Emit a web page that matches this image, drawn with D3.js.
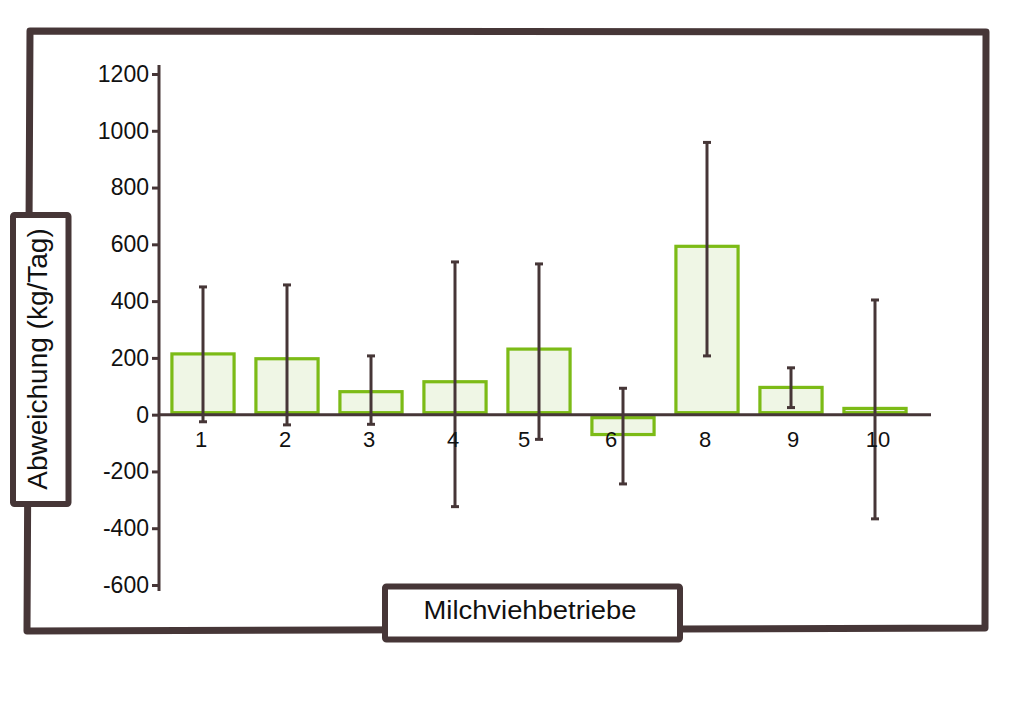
<!DOCTYPE html>
<html>
<head>
<meta charset="utf-8">
<script src="https://cdn.jsdelivr.net/npm/d3@7"></script>
<style>
  html, body { margin: 0; padding: 0; background: #ffffff; }
  svg { display: block; font-family: "Liberation Sans", Arial, Helvetica, sans-serif; }
</style>
</head>
<body>
<svg id="chart" width="1024" height="724"></svg>
<script>
// ---- data ----
const categories = ["1", "2", "3", "4", "5", "6", "8", "9", "10"];
const means      = [214, 197, 81, 116, 231, -70, 593, 96, 22];
const errLow     = [-25, -36, -34, -324, -87, -244, 207, 25, -367];
const errHigh    = [450, 457, 207, 538, 531, 93, 959, 165, 404];
const yTicks     = [-600, -400, -200, 0, 200, 400, 600, 800, 1000, 1200];
const yLabel = "Abweichung (kg/Tag)";
const xLabel = "Milchviehbetriebe";

const dark = "#463637";
const green = "#7cbb16";
const greenFill = "#eff6e5";

const svg = d3.select("#chart");

// scales
const y = d3.scaleLinear().domain([-600, 1200]).range([585, 74]);
const x = d3.scaleBand().domain(categories).range([161, 917]).paddingInner(0.26).paddingOuter(0.13);

// outer hand-drawn frame
svg.append("path")
  .attr("d", "M30,31 L986,32 L985,628 L27,631 Z")
  .attr("fill", "none")
  .attr("stroke", dark)
  .attr("stroke-width", 7)
  .attr("stroke-linejoin", "round");

// bars
const data = categories.map((c, i) => ({ c, v: means[i], lo: errLow[i], hi: errHigh[i] }));
svg.append("g").selectAll("rect").data(data).join("rect")
  .attr("x", d => x(d.c))
  .attr("width", x.bandwidth())
  .attr("y", d => y(Math.max(0, d.v)) + (d.v < 0 ? 3 : 0))
  .attr("height", d => Math.abs(y(d.v) - y(0)) - (d.v < 0 ? 3 : 2))
  .attr("fill", greenFill)
  .attr("stroke", green)
  .attr("stroke-width", 3.2);

// zero line (x axis)
svg.append("line")
  .attr("x1", 158).attr("x2", 931)
  .attr("y1", y(0)).attr("y2", y(0))
  .attr("stroke", dark).attr("stroke-width", 3);

// y axis
const yAxis = d3.axisLeft(y).tickValues(yTicks).tickSize(7).tickPadding(3).tickFormat(d => String(d));
const gy = svg.append("g").attr("transform", "translate(159,0)").call(yAxis);
gy.select(".domain").remove();
gy.append("line").attr("x1", 0).attr("x2", 0).attr("y1", 65).attr("y2", 591)
  .attr("stroke", dark).attr("stroke-width", 3);
gy.selectAll(".tick line").attr("stroke", dark).attr("stroke-width", 3);
gy.selectAll(".tick text").attr("fill", "#111").attr("font-size", 23)
  .attr("font-family", "\"Liberation Sans\", Arial, sans-serif");

// error bars
const cx = d => x(d.c) + x.bandwidth() / 2;
const eg = svg.append("g").selectAll("g").data(data).join("g")
  .attr("stroke", dark).attr("stroke-width", 3);
eg.append("line").attr("x1", cx).attr("x2", cx).attr("y1", d => y(d.lo)).attr("y2", d => y(d.hi));
eg.append("line").attr("x1", d => cx(d) - 4).attr("x2", d => cx(d) + 4).attr("y1", d => y(d.hi)).attr("y2", d => y(d.hi));
eg.append("line").attr("x1", d => cx(d) - 4).attr("x2", d => cx(d) + 4).attr("y1", d => y(d.lo)).attr("y2", d => y(d.lo));

// category labels
const labelShift = { "5": -13, "6": -10, "9": 4, "10": 5 };
svg.append("g").selectAll("text").data(categories).join("text")
  .attr("x", c => x(c) + x.bandwidth() / 2 + (labelShift[c] || 0) - 2)
  .attr("y", 447)
  .attr("text-anchor", "middle")
  .attr("font-size", 22)
  .attr("fill", "#111")
  .text(c => c);

// y label box
svg.append("rect").attr("x", 13).attr("y", 215).attr("width", 55.5).attr("height", 289)
  .attr("fill", "#fff").attr("stroke", dark).attr("stroke-width", 6).attr("rx", 1.5);
svg.append("text")
  .attr("transform", "translate(47,359) rotate(-90)")
  .attr("text-anchor", "middle")
  .attr("font-size", 28)
  .attr("fill", "#111")
  .text(yLabel);

// x label box
svg.append("rect").attr("x", 385).attr("y", 586.5).attr("width", 295).attr("height", 53)
  .attr("fill", "#fff").attr("stroke", dark).attr("stroke-width", 6).attr("rx", 1.5);
svg.append("text")
  .attr("x", 530).attr("y", 619)
  .attr("text-anchor", "middle")
  .attr("font-size", 25)
  .attr("textLength", 213)
  .attr("lengthAdjust", "spacingAndGlyphs")
  .attr("fill", "#111")
  .text(xLabel);
</script>
</body>
</html>
